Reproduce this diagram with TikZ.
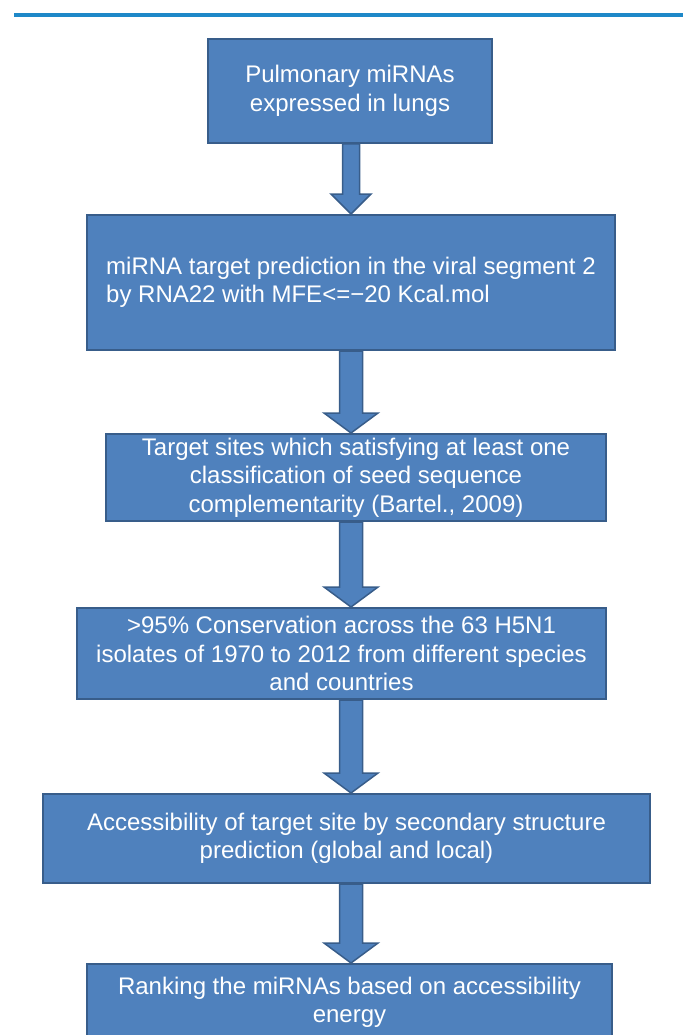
\documentclass[tikz,border=0pt]{standalone}
\usepackage{fontspec}
\setmainfont{Liberation Sans}
\usetikzlibrary{calc}

\definecolor{boxfill}{RGB}{79,129,189}
\definecolor{boxline}{RGB}{56,93,138}
\definecolor{rulecolor}{RGB}{30,136,200}

\tikzset{
    stage/.style={draw=boxline, fill=boxfill, line width=2pt, text=white, align=center,
        inner sep=0pt, font=\fontsize{24}{28.5}\selectfont},
    flowarrow/.style={draw=boxline, fill=boxfill, line width=1.5pt, line join=miter}
}

\newcommand{\stagearrow}[3][11.5]{%
    \draw[flowarrow] ($(#2.south -| spine)+(-#1,0)$) -- ($(#3.north -| spine)+(-#1,-20)$)
        -- ($(#3.north -| spine)+(-2.35*#1,-20)$) -- (#3.north -| spine)
        -- ($(#3.north -| spine)+(2.35*#1,-20)$) -- ($(#3.north -| spine)+(#1,-20)$)
        -- ($(#2.south -| spine)+(#1,0)$) -- cycle;}

\begin{document}
\begin{tikzpicture}[x=1pt, y=-1pt]
            \useasboundingbox (0,0) rectangle (683,1035);
            \draw[rulecolor, line width=4.5pt] (14,15) -- (683,15);
            \coordinate (spine) at (351,0);

            \node[stage, minimum width=284pt, minimum height=104pt] (lungs) at (350,91)
                {Pulmonary miRNAs\\expressed in lungs};
            \node[stage, align=left, minimum width=528pt, minimum height=135pt] (predict) at (351,282.5)
                {miRNA target prediction in the viral segment 2\\by RNA22 with MFE<=−20 Kcal.mol};
            \node[stage, minimum width=500pt, minimum height=87pt] (seed) at (356,477.5)
                {Target sites which satisfying at least one\\classification of seed sequence\\complementarity (Bartel., 2009)};
            \node[stage, minimum width=529pt, minimum height=91pt] (conserve) at (341.5,653.5)
                {>95\% Conservation across the 63 H5N1\\isolates of 1970 to 2012 from different species\\and countries};
            \node[stage, minimum width=607pt, minimum height=89pt] (access) at (346.5,838.5)
                {Accessibility of target site by secondary structure\\prediction (global and local)};
            \node[stage, minimum width=525pt, minimum height=77pt] (rank) at (349.5,1002.5)
                {Ranking the miRNAs based on accessibility\\energy};

            \stagearrow[8.5]{lungs}{predict}
            \stagearrow{predict}{seed}
            \stagearrow{seed}{conserve}
            \stagearrow{conserve}{access}
            \stagearrow{access}{rank}
        \end{tikzpicture}
\end{document}
